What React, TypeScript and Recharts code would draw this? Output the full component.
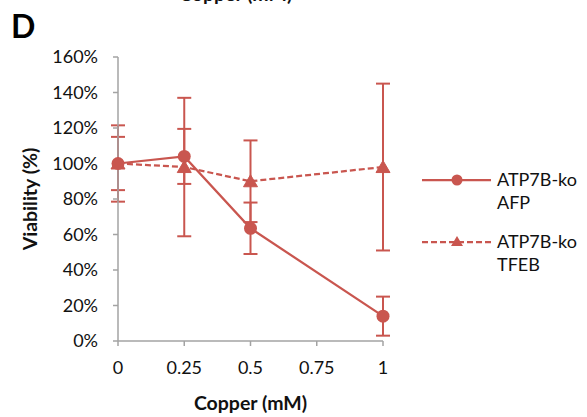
import React from "react";
import { LineChart, Line, XAxis, YAxis, ErrorBar } from "recharts";

const doses = [0, 0.25, 0.5, 1];
const afp = [100, 104, 63.5, 14];
const afpErr = [15, 15.5, 14.5, 11];
const tfeb = [100, 98, 90, 98];
const tfebErr = [21.5, 39, 23, 47];
const xTicks = [0, 0.25, 0.5, 0.75, 1];
const yTicks = [0, 20, 40, 60, 80, 100, 120, 140, 160];

const data = doses.map((d, i) => ({
  dose: d,
  afp: afp[i],
  afpErr: afpErr[i],
  tfeb: tfeb[i],
  tfebErr: tfebErr[i],
}));

const RED = "#C9564F";
const AXIS = "#A3A3A3";
const FONT = "Lato, 'Open Sans', sans-serif";

const tickStyle = { fill: "#111", fontSize: 18, fontFamily: FONT };
const boldLabel = { fontFamily: FONT, fontWeight: 700, fontSize: 19.5, fill: "#111" };

function Triangle(props: any) {
  const { cx, cy, index } = props;
  if (cx == null || cy == null) return null;
  const pts = `${cx},${cy - 6.5} ${cx + 7},${cy + 5.5} ${cx - 7},${cy + 5.5}`;
  return <polygon key={`tri-${index}`} points={pts} fill={RED} stroke={RED} />;
}

function LegendOverlay() {
  const text: React.CSSProperties = {
    position: "absolute",
    left: 497,
    fontFamily: FONT,
    fontSize: 18,
    lineHeight: "23px",
    color: "#111",
  };
  return (
    <>
      <svg
        width={587}
        height={417}
        style={{ position: "absolute", left: 0, top: 0, pointerEvents: "none" }}
      >
        <line x1={422} y1={180} x2={491} y2={180} stroke={RED} strokeWidth={2.25} />
        <circle cx={457} cy={180} r={5.5} fill={RED} />
        <line
          x1={422}
          y1={242}
          x2={491}
          y2={242}
          stroke={RED}
          strokeWidth={2.25}
          strokeDasharray="6 3"
        />
        <polygon points="457,236 463,246 451,246" fill={RED} />
      </svg>
      <div style={{ ...text, top: 168 }}>
        ATP7B-ko
        <br />
        AFP
      </div>
      <div style={{ ...text, top: 230 }}>
        ATP7B-ko
        <br />
        TFEB
      </div>
    </>
  );
}

export default function App() {
  return (
    <div
      style={{
        position: "absolute",
        left: 0,
        top: 0,
        width: 587,
        height: 417,
        background: "#fff",
        overflow: "hidden",
      }}
    >
      <div
        style={{
          position: "absolute",
          left: 179,
          top: -18,
          fontFamily: FONT,
          fontWeight: 700,
          fontSize: 19.5,
          color: "#111",
        }}
      >
        Copper (mM)
      </div>
      <div
        style={{
          position: "absolute",
          left: 11,
          top: 6,
          fontFamily: FONT,
          fontWeight: 700,
          fontSize: 32,
          color: "#000",
        }}
      >
        D
      </div>
      <LineChart
        width={587}
        height={417}
        data={data}
        margin={{ top: 57, right: 204, bottom: 0, left: 10 }}
      >
        <XAxis
          dataKey="dose"
          type="number"
          domain={[0, 1]}
          ticks={xTicks}
          tick={tickStyle}
          tickSize={5}
          tickMargin={15}
          height={76}
          axisLine={{ stroke: AXIS, strokeWidth: 1.5 }}
          tickLine={{ stroke: AXIS, strokeWidth: 1.5 }}
          label={{
            value: "Copper (mM)",
            position: "insideBottom",
            offset: 7,
            style: boldLabel,
          }}
        />
        <YAxis
          type="number"
          domain={[0, 160]}
          ticks={yTicks}
          tickFormatter={(v: number) => `${v}%`}
          tick={tickStyle}
          tickSize={5}
          tickMargin={15}
          width={108}
          axisLine={{ stroke: AXIS, strokeWidth: 1.5 }}
          tickLine={{ stroke: AXIS, strokeWidth: 1.5 }}
          label={{
            value: "Viability (%)",
            angle: -90,
            position: "insideLeft",
            offset: 20,
            style: { ...boldLabel, textAnchor: "middle" },
          }}
        />
        <Line
          dataKey="tfeb"
          stroke={RED}
          strokeWidth={2.25}
          strokeDasharray="6 3"
          dot={Triangle}
          activeDot={false}
          isAnimationActive={false}
        >
          <ErrorBar dataKey="tfebErr" direction="y" width={7} stroke={RED} strokeWidth={2} />
        </Line>
        <Line
          dataKey="afp"
          stroke={RED}
          strokeWidth={2.25}
          dot={{ r: 6.5, fill: RED, stroke: RED, strokeWidth: 0 }}
          activeDot={false}
          isAnimationActive={false}
        >
          <ErrorBar dataKey="afpErr" direction="y" width={7} stroke={RED} strokeWidth={2} />
        </Line>
      </LineChart>
      <LegendOverlay />
    </div>
  );
}
